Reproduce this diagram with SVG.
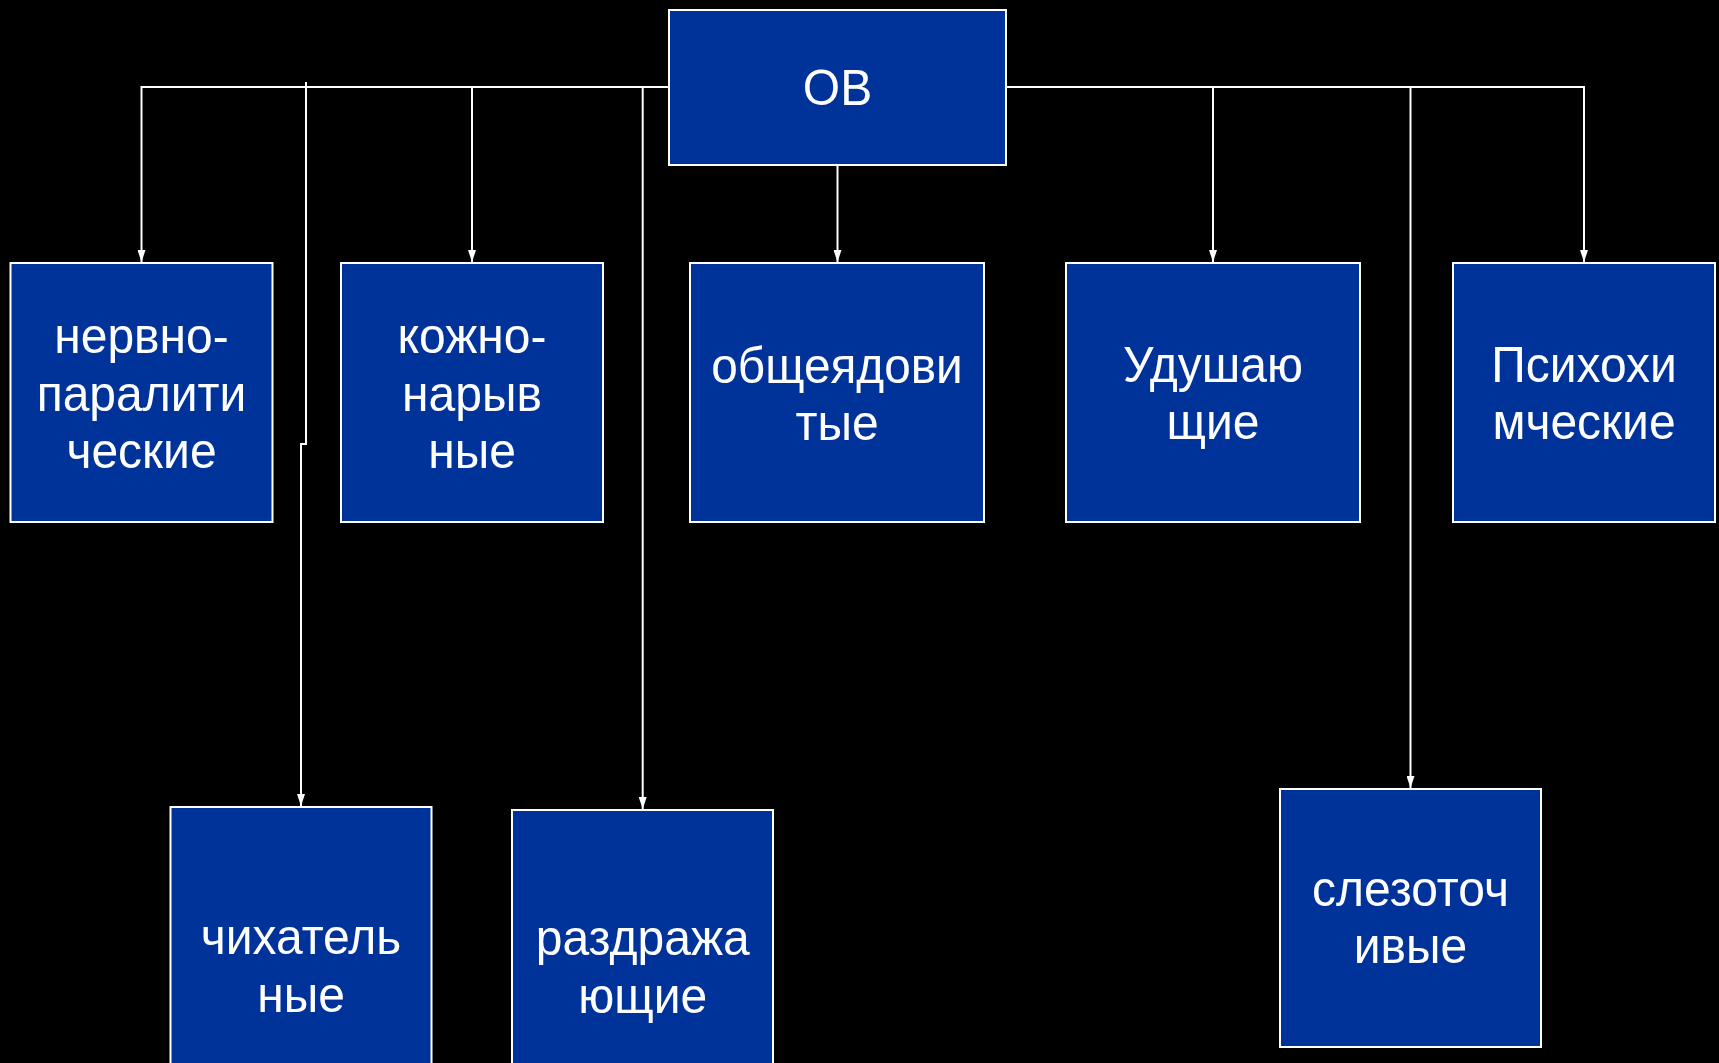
<svg xmlns="http://www.w3.org/2000/svg" width="1719" height="1063" viewBox="0 0 1719 1063">
<defs>
<style>
.box{fill:#003399;stroke:#ffffff;stroke-width:2}
.lbl{fill:#ffffff;font-family:"Liberation Sans",Arial,sans-serif;font-size:50px;text-anchor:middle}
.con{fill:none;stroke:#ffffff;stroke-width:2}
</style>
<marker id="arr" markerUnits="userSpaceOnUse" markerWidth="12" markerHeight="8" refX="12" refY="4" orient="auto">
<path d="M0,0 L12,4 L0,8 Z" fill="#ffffff"/>
</marker>
</defs>
<rect x="0" y="0" width="1719" height="1063" fill="#000000"/>
<g id="connectors">
<path class="con" d="M669,87 H141.5 V262" marker-end="url(#arr)"/>
<path class="con" d="M1006,87 H1584 V262" marker-end="url(#arr)"/>
<path class="con" d="M472,87 V262" marker-end="url(#arr)"/>
<path class="con" d="M837.5,165 V262" marker-end="url(#arr)"/>
<path class="con" d="M1213,87 V262" marker-end="url(#arr)"/>
<path class="con" d="M1410.5,87 V788" marker-end="url(#arr)"/>
<path class="con" d="M642.7,87 V809" marker-end="url(#arr)"/>
<path class="con" d="M306,82 V444 H301 V806" marker-end="url(#arr)"/>
</g>
<g id="ov">
<rect class="box" x="669" y="10" width="337" height="155"/>
<g transform="translate(837.5 0) scale(0.96 1)"><text class="lbl" x="0" y="105">ОВ</text></g>
</g>
<g id="nervno">
<rect class="box" x="10.5" y="263" width="262" height="259"/>
<g transform="translate(141.5 0) scale(0.96 1)">
<text class="lbl" x="0" y="353">нервно-</text>
<text class="lbl" x="0" y="411">паралити</text>
<text class="lbl" x="0" y="468">ческие</text>
</g>
</g>
<g id="kozhno">
<rect class="box" x="341" y="263" width="262" height="259"/>
<g transform="translate(472 0) scale(0.96 1)">
<text class="lbl" x="0" y="353">кожно-</text>
<text class="lbl" x="0" y="411">нарыв</text>
<text class="lbl" x="0" y="468">ные</text>
</g>
</g>
<g id="obshcheyad">
<rect class="box" x="690" y="263" width="294" height="259"/>
<g transform="translate(837 0) scale(0.96 1)">
<text class="lbl" x="0" y="383" textLength="262" lengthAdjust="spacingAndGlyphs">общеядови</text>
<text class="lbl" x="0" y="440">тые</text>
</g>
</g>
<g id="udush">
<rect class="box" x="1066" y="263" width="294" height="259"/>
<g transform="translate(1213 0) scale(0.96 1)">
<text class="lbl" x="0" y="382">Удушаю</text>
<text class="lbl" x="0" y="439">щие</text>
</g>
</g>
<g id="psikho">
<rect class="box" x="1453" y="263" width="262" height="259"/>
<g transform="translate(1584 0) scale(0.96 1)">
<text class="lbl" x="0" y="382">Психохи</text>
<text class="lbl" x="0" y="439">мческие</text>
</g>
</g>
<g id="chikh">
<rect class="box" x="170.5" y="807" width="261" height="270"/>
<g transform="translate(301 0) scale(0.96 1)">
<text class="lbl" x="0" y="954">чихатель</text>
<text class="lbl" x="0" y="1012">ные</text>
</g>
</g>
<g id="razdr">
<rect class="box" x="512" y="810" width="261" height="270"/>
<g transform="translate(642.7 0) scale(0.96 1)">
<text class="lbl" x="0" y="955">раздража</text>
<text class="lbl" x="0" y="1013">ющие</text>
</g>
</g>
<g id="slez">
<rect class="box" x="1280" y="789" width="261" height="258"/>
<g transform="translate(1410.5 0) scale(0.96 1)">
<text class="lbl" x="0" y="906">слезоточ</text>
<text class="lbl" x="0" y="963">ивые</text>
</g>
</g>
</svg>
